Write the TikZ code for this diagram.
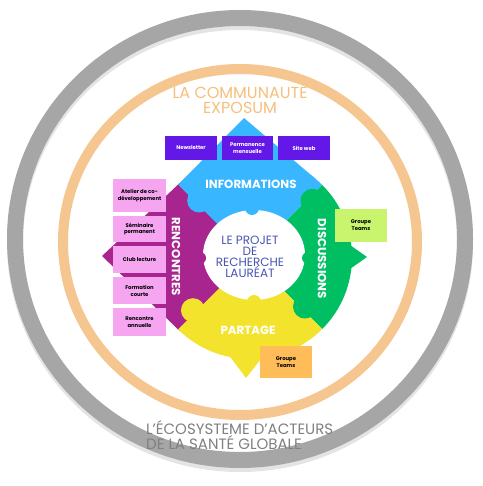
\documentclass[tikz,border=0pt]{standalone}
\usepackage{fontspec}
\usetikzlibrary{calc}
\setmainfont{Poppins}
\definecolor{cgray}{RGB}{166,166,166}
\definecolor{cgraytext}{RGB}{128,128,128}
\definecolor{corange}{RGB}{245,198,143}
\definecolor{corangetext}{RGB}{245,192,125}
\definecolor{cblue}{RGB}{56,182,255}
\definecolor{cgreen}{RGB}{0,191,99}
\definecolor{cyellow}{RGB}{243,227,45}
\definecolor{cmagenta}{RGB}{168,36,142}
\definecolor{cpurple}{RGB}{100,24,232}
\definecolor{cpink}{RGB}{246,166,241}
\definecolor{clime}{RGB}{201,245,110}
\definecolor{cobox}{RGB}{255,189,89}
\definecolor{cinner}{RGB}{72,86,176}
\begin{document}
\begin{tikzpicture}[x=1pt,y=-1pt,
  pbox/.style={fill=cpurple, text=white, font=\bfseries\fontsize{5.3}{6.8}\selectfont, align=center, inner sep=0pt},
  kbox/.style={fill=cpink, text=black, font=\bfseries\fontsize{5.3}{6.8}\selectfont, align=center, inner sep=0pt, minimum width=53pt},
  tbox/.style={text=black, font=\bfseries\fontsize{5.3}{6.8}\selectfont, align=center, inner sep=0pt, minimum width=52pt},
  qlabel/.style={text=white, font=\bfseries\fontsize{11.8}{13}\selectfont, inner sep=0pt}
]
\useasboundingbox (0,0) rectangle (482,486);
\fill[white] (0,0) rectangle (482,486);
% rings
\draw[line width=16pt, cgray!30] (240,243) ellipse [x radius=225, y radius=221];
\draw[line width=16pt, cgray] (240,239) ellipse [x radius=225, y radius=221];
\draw[line width=10pt, corange] (240,242) ellipse [x radius=177, y radius=173];
% texts
\node[text=corangetext, font=\fontsize{16}{15}\selectfont, align=center, inner sep=0pt] (title) at (240,100) {LA COMMUNAUTE\\EXPOSUM};
\node[text=cgraytext, font=\fontsize{15}{14}\selectfont, align=left, anchor=west, inner sep=0pt] (eco) at (146,435) {L’ÉCOSYSTEME D’ACTEURS\\DE LA SANTÉ GLOBALE};
% tails
\coordinate (C) at (250,257);
\fill[cblue] (244,118) -- ($(C)+(224.7:102)$) -- (C) -- ($(C)+(310.3:102)$) -- cycle;
\fill[cmagenta] (102,256) -- ($(C)+(133.6:102)$) -- (C) -- ($(C)+(226.4:102)$) -- cycle;
\fill[cgreen] (367,257) -- (340,238) -- (C) -- (340,276) -- cycle;
\fill[cyellow] (246,378) -- (225,350) -- (C) -- (268,350) -- cycle;
% sectors
\fill[cblue] (C) -- ++(225:102) arc[start angle=225, end angle=315, radius=102] -- cycle;
\fill[cgreen] (C) -- ++(-45:102) arc[start angle=-45, end angle=45, radius=102] -- cycle;
\fill[cyellow] (C) -- ++(45:102) arc[start angle=45, end angle=135, radius=102] -- cycle;
\fill[cmagenta] (C) -- ++(135:102) arc[start angle=135, end angle=225, radius=102] -- cycle;
% knobs
\fill[cblue] ($(C)+(228:76)$) circle[radius=12];
\fill[cgreen] ($(C)+(318:84)$) circle[radius=12];
\fill[cgreen] ($(C)+(42:74)$) circle[radius=12];
\fill[cyellow] ($(C)+(137:78)$) circle[radius=12];
% white centre
\fill[white] (254,255) ellipse [x radius=51, y radius=45];
\fill[cblue] (252,208) circle[radius=7];
\fill[cyellow] (254,302) circle[radius=7];
\fill[cmagenta] (200,258) circle[radius=6];
\fill[cgreen] (308,258) circle[radius=6];
\node[text=cinner, font=\fontsize{12}{11.2}\selectfont, align=center, inner sep=0pt] (projet) at (250,257) {LE PROJET\\DE\\RECHERCHE\\LAURÉAT};
% quadrant labels
\node[qlabel] (info) at (251,184) {INFORMATIONS};
\node[qlabel, rotate=-90] (disc) at (322,259) {DISCUSSIONS};
\node[qlabel] (part) at (248,330) {PARTAGE};
\node[qlabel, rotate=-90] (renc) at (176,257) {RENCONTRES};
% purple boxes
\node[pbox, minimum width=52pt, minimum height=24pt] (news) at (191,148) {Newsletter};
\node[pbox, minimum width=51pt, minimum height=24pt] (perm) at (247.5,148) {Permanence\\mensuelle};
\node[pbox, minimum width=52pt, minimum height=24pt] (site) at (304,148) {Site web};
% pink boxes
\node[kbox, minimum height=33pt] (atel) at (139.5,195.5) {Atelier de co-\\développement};
\node[kbox, minimum height=26pt] (semi) at (139.5,229) {Séminaire\\permanent};
\node[kbox, minimum height=27pt] (club) at (139.5,259.5) {Club lecture};
\node[kbox, minimum height=27pt] (form) at (139.5,290.5) {Formation\\courte};
\node[kbox, minimum height=28pt] (renca) at (139.5,322) {Rencontre\\annuelle};
% teams boxes
\node[tbox, fill=clime, minimum height=33pt] (teams1) at (361,225.5) {Groupe\\Teams};
\node[tbox, fill=cobox, minimum height=32pt] (teams2) at (286,362) {Groupe\\Teams};
\end{tikzpicture}
\end{document}
